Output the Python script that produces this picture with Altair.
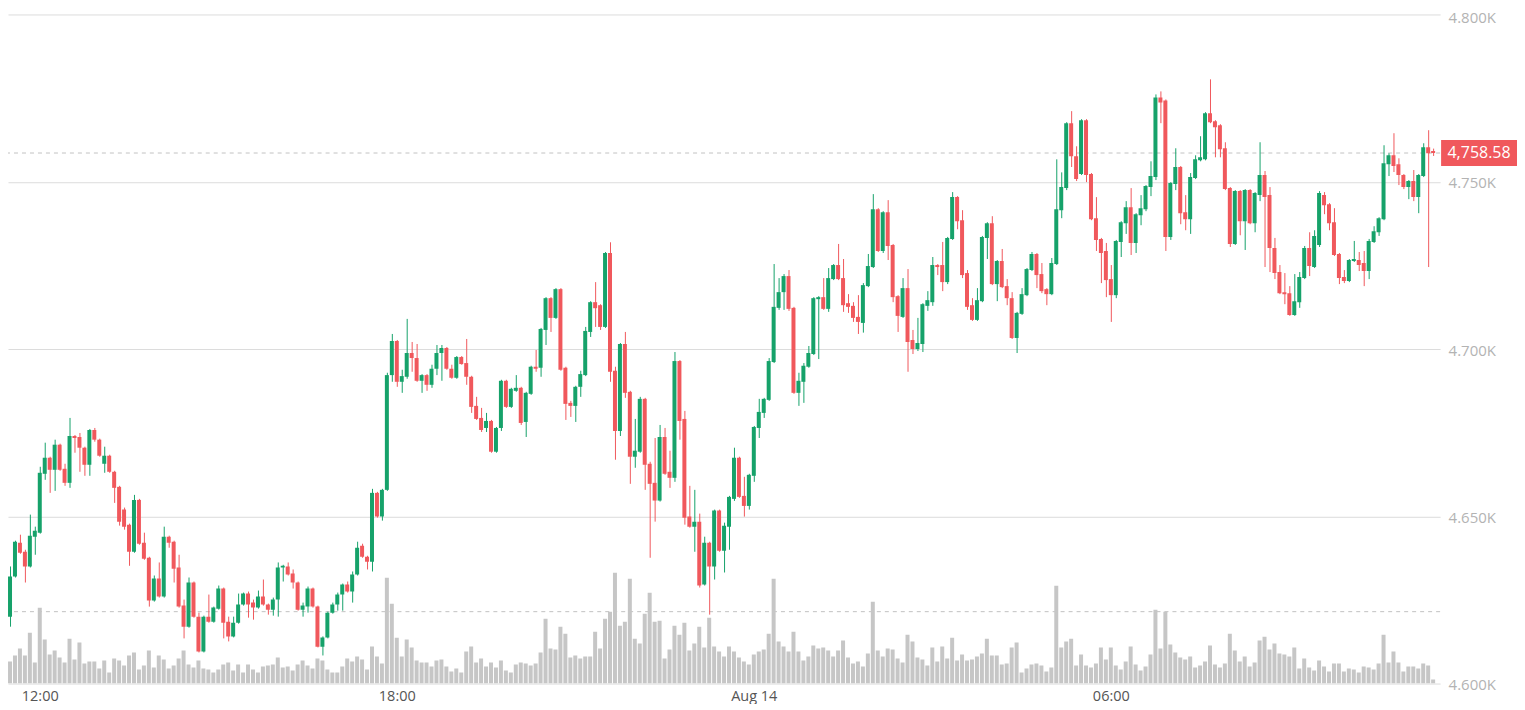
import altair as alt
import pandas as pd
import numpy as np

# 5-minute candles, first at 2025-08-13 11:25
opens = [
    4628.7, 4620.0, 4632.0, 4642.1, 4639.4, 4635.0, 4643.9,
    4645.1, 4662.7, 4667.5, 4663.9, 4671.4, 4664.2, 4660.0, 4674.0, 4673.7, 4670.5, 4665.4, 4675.8, 4672.9, 4665.7, 4668.1, 4663.3, 4658.8,
    4652.0, 4647.5, 4639.4, 4654.9, 4642.1, 4637.6, 4624.8, 4631.4, 4626.0, 4643.9, 4642.4, 4634.7, 4623.3, 4617.0, 4630.2, 4620.0, 4609.6, 4620.0, 4618.5, 4622.4, 4628.4, 4618.5, 4614.1, 4618.2,
    4623.6, 4626.9, 4624.2, 4622.7, 4626.0, 4623.6, 4622.1, 4625.1, 4634.7, 4635.0, 4632.9, 4630.2, 4622.1, 4623.0, 4628.4, 4623.0, 4611.0, 4613.8, 4621.2, 4623.6, 4626.6, 4629.6, 4627.5, 4632.6,
    4641.2, 4637.9, 4636.4, 4657.0, 4649.9, 4657.9, 4692.2, 4702.4, 4690.2, 4691.7, 4698.8, 4697.3, 4690.5, 4692.2, 4689.3, 4694.1, 4698.8, 4700.3, 4694.1, 4691.4, 4697.6, 4695.8, 4691.7, 4683.0,
    4679.4, 4676.4, 4678.5, 4669.3, 4676.4, 4690.5, 4682.7, 4687.5, 4688.4, 4678.2, 4686.6, 4694.7, 4694.4, 4705.7, 4715.2, 4709.3, 4717.9, 4694.4, 4683.9, 4683.0, 4688.7, 4692.2, 4705.1, 4714.0,
    4713.1, 4706.6, 4728.7, 4693.5, 4675.5, 4701.5, 4687.2, 4667.8, 4669.3, 4685.1, 4665.7, 4660.0, 4654.7, 4673.7, 4663.3, 4661.5, 4696.4, 4679.1, 4649.9, 4646.9, 4648.4, 4629.6, 4642.1, 4635.0,
    4651.7, 4639.7, 4646.9, 4655.2, 4667.5, 4656.1, 4653.1, 4662.1, 4676.4, 4680.9, 4684.8, 4696.1, 4712.3, 4717.0, 4721.8, 4712.3, 4686.9, 4690.2, 4694.7, 4698.5, 4714.9, 4715.5, 4712.0, 4720.9,
    4725.1, 4721.2, 4713.7, 4712.9, 4709.6, 4707.8, 4718.8, 4724.5, 4741.8, 4729.3, 4740.9, 4731.1, 4715.8, 4709.6, 4718.2, 4702.7, 4700.0, 4701.5, 4712.9, 4714.0, 4725.1, 4725.1, 4720.0, 4732.9,
    4745.4, 4738.5, 4722.7, 4713.1, 4708.7, 4714.3, 4733.2, 4737.6, 4719.4, 4726.3, 4718.8, 4715.2, 4703.3, 4710.5, 4716.1, 4723.6, 4728.4, 4722.4, 4717.9, 4716.4, 4725.4, 4741.5, 4748.1, 4767.5,
    4757.6, 4752.3, 4768.4, 4752.3, 4739.1, 4732.9, 4729.3, 4720.9, 4716.1, 4732.0, 4737.6, 4742.4, 4731.7, 4740.0, 4741.8, 4748.4, 4751.4, 4775.2, 4774.3, 4733.5, 4749.3, 4754.4, 4740.9, 4738.8,
    4751.1, 4756.4, 4756.7, 4770.5, 4768.1, 4766.9, 4760.0, 4748.1, 4731.4, 4747.2, 4738.2, 4747.5, 4737.6, 4746.0, 4752.0, 4746.0, 4730.2, 4723.0, 4717.0, 4716.7, 4710.2, 4714.0, 4721.2, 4730.2,
    4724.5, 4731.1, 4746.0, 4743.3, 4737.9, 4728.4, 4721.5, 4720.3, 4726.3, 4726.6, 4725.7, 4723.3, 4732.0, 4734.9, 4738.8, 4755.2, 4757.9, 4755.2, 4752.0, 4748.4, 4750.2, 4745.4, 4751.7, 4760.3, 4759.2,
]
highs = [
    4629.6, 4635.0, 4642.7, 4644.5, 4640.0, 4650.5, 4646.9,
    4664.8, 4672.0, 4667.8, 4672.9, 4671.7, 4665.7, 4679.4, 4674.3, 4674.9, 4670.8, 4676.1, 4676.4, 4673.2, 4670.8, 4668.4, 4663.6, 4659.1,
    4652.6, 4647.8, 4656.4, 4655.2, 4645.1, 4637.9, 4632.3, 4636.2, 4646.9, 4644.2, 4642.7, 4638.5, 4625.1, 4631.7, 4630.5, 4621.2, 4620.3, 4626.6, 4623.0, 4629.3, 4628.7, 4620.0, 4620.0, 4626.9,
    4627.2, 4627.5, 4625.1, 4627.8, 4631.1, 4623.9, 4625.7, 4636.2, 4635.5, 4636.2, 4634.1, 4630.5, 4624.2, 4629.0, 4628.7, 4623.3, 4614.1, 4621.5, 4624.2, 4627.2, 4629.9, 4630.5, 4633.5, 4642.4,
    4641.8, 4638.2, 4658.2, 4657.3, 4658.2, 4692.9, 4704.5, 4702.7, 4693.8, 4709.0, 4702.1, 4701.5, 4692.5, 4692.5, 4695.3, 4701.2, 4701.2, 4700.6, 4695.3, 4697.9, 4697.9, 4703.0, 4692.0, 4685.7,
    4682.4, 4680.9, 4678.8, 4676.7, 4690.8, 4690.8, 4688.4, 4692.2, 4688.7, 4687.2, 4695.0, 4699.7, 4706.3, 4715.5, 4715.5, 4718.2, 4718.2, 4694.7, 4684.5, 4689.0, 4693.5, 4706.6, 4714.3, 4720.0,
    4713.4, 4729.0, 4731.9, 4694.7, 4701.8, 4705.1, 4687.5, 4679.1, 4685.7, 4685.4, 4666.3, 4673.4, 4677.3, 4676.4, 4669.6, 4699.1, 4696.7, 4681.5, 4659.1, 4657.9, 4650.8, 4643.9, 4642.4, 4652.0,
    4652.0, 4648.1, 4656.1, 4670.5, 4667.8, 4661.8, 4662.7, 4677.0, 4685.1, 4685.4, 4697.3, 4725.4, 4721.2, 4722.4, 4723.6, 4712.6, 4692.9, 4695.8, 4700.9, 4715.5, 4715.8, 4721.2, 4724.2, 4725.4,
    4731.4, 4726.9, 4716.4, 4714.0, 4716.1, 4719.7, 4728.4, 4746.3, 4742.1, 4741.2, 4744.5, 4731.4, 4716.1, 4721.2, 4723.9, 4705.7, 4709.3, 4713.7, 4717.3, 4727.5, 4725.4, 4732.0, 4733.5, 4746.9,
    4745.7, 4741.5, 4723.6, 4715.2, 4718.2, 4733.8, 4737.9, 4739.7, 4726.6, 4729.9, 4720.9, 4717.0, 4711.1, 4718.2, 4724.2, 4729.0, 4728.7, 4725.7, 4718.2, 4727.2, 4756.7, 4752.8, 4767.8, 4771.1,
    4760.6, 4768.7, 4768.7, 4752.6, 4745.4, 4733.2, 4731.7, 4725.1, 4732.6, 4738.2, 4744.2, 4748.1, 4740.6, 4746.0, 4749.0, 4756.1, 4776.1, 4777.0, 4774.6, 4749.9, 4760.0, 4754.7, 4746.0, 4752.6,
    4757.9, 4763.6, 4770.8, 4780.6, 4768.4, 4767.2, 4761.8, 4748.4, 4747.5, 4747.5, 4747.8, 4747.8, 4746.9, 4761.8, 4753.2, 4748.4, 4733.2, 4725.1, 4722.7, 4718.8, 4722.4, 4723.0, 4730.8, 4734.9,
    4735.5, 4747.2, 4746.9, 4743.6, 4742.1, 4728.7, 4723.6, 4726.9, 4732.3, 4729.0, 4729.3, 4732.9, 4736.7, 4739.4, 4760.9, 4758.5, 4764.5, 4757.0, 4752.3, 4750.5, 4753.5, 4752.3, 4761.5, 4765.4, 4759.9,
]
lows = [
    4617.0, 4617.0, 4631.7, 4638.8, 4630.2, 4634.7, 4638.5,
    4644.8, 4660.9, 4657.0, 4657.6, 4663.6, 4659.1, 4658.5, 4669.0, 4663.3, 4662.1, 4662.1, 4672.3, 4667.8, 4663.0, 4663.0, 4654.0, 4647.2,
    4646.0, 4635.2, 4639.1, 4641.5, 4637.0, 4623.0, 4624.5, 4625.7, 4625.7, 4640.6, 4630.2, 4622.7, 4613.5, 4616.7, 4619.7, 4609.3, 4609.3, 4618.2, 4618.2, 4622.1, 4613.5, 4612.6, 4613.8, 4617.9,
    4623.3, 4619.7, 4619.1, 4622.4, 4623.3, 4620.6, 4620.3, 4620.0, 4630.5, 4632.3, 4628.4, 4621.8, 4620.0, 4621.2, 4622.7, 4610.8, 4608.4, 4613.5, 4620.9, 4621.8, 4621.8, 4627.2, 4624.2, 4632.3,
    4637.6, 4634.1, 4633.5, 4649.6, 4648.7, 4657.6, 4690.2, 4688.7, 4686.9, 4691.1, 4693.2, 4690.2, 4686.9, 4687.5, 4688.4, 4692.2, 4690.5, 4693.8, 4691.1, 4691.1, 4695.3, 4689.3, 4680.9, 4678.8,
    4675.2, 4675.2, 4669.0, 4669.0, 4675.5, 4682.4, 4682.4, 4687.2, 4677.3, 4673.7, 4686.3, 4693.2, 4691.7, 4701.2, 4705.1, 4709.0, 4693.5, 4678.8, 4679.7, 4678.2, 4685.7, 4691.9, 4703.6, 4706.6,
    4705.7, 4706.3, 4690.2, 4666.9, 4674.0, 4685.4, 4659.7, 4664.5, 4669.0, 4657.9, 4637.6, 4648.4, 4654.4, 4662.4, 4658.5, 4660.3, 4672.9, 4647.5, 4646.6, 4639.4, 4628.7, 4629.3, 4620.6, 4631.1,
    4639.4, 4633.2, 4640.0, 4654.6, 4655.5, 4649.9, 4652.0, 4660.3, 4673.4, 4679.4, 4684.5, 4695.8, 4711.7, 4711.7, 4711.4, 4686.6, 4683.0, 4683.9, 4694.4, 4698.2, 4697.0, 4711.7, 4711.1, 4720.6,
    4720.6, 4711.1, 4710.8, 4708.1, 4704.5, 4704.9, 4718.5, 4724.2, 4729.0, 4728.7, 4726.6, 4714.0, 4705.1, 4709.3, 4693.2, 4698.5, 4699.4, 4699.1, 4711.4, 4712.9, 4722.1, 4717.3, 4719.4, 4732.6,
    4735.8, 4721.2, 4711.7, 4708.4, 4708.4, 4714.0, 4726.9, 4719.1, 4714.3, 4718.2, 4713.1, 4703.0, 4698.8, 4710.2, 4715.8, 4723.3, 4718.2, 4716.7, 4713.1, 4716.1, 4725.1, 4739.1, 4747.5, 4754.4,
    4750.2, 4752.0, 4749.9, 4738.5, 4729.3, 4719.7, 4715.5, 4708.1, 4715.2, 4727.5, 4734.4, 4728.1, 4728.7, 4737.0, 4741.2, 4745.7, 4750.5, 4767.5, 4729.3, 4732.6, 4747.5, 4737.3, 4735.5, 4734.4,
    4750.8, 4756.1, 4756.4, 4767.5, 4757.3, 4757.3, 4747.5, 4730.5, 4731.1, 4734.0, 4729.6, 4737.3, 4734.9, 4744.2, 4724.5, 4723.0, 4720.9, 4716.4, 4713.4, 4709.9, 4709.9, 4712.3, 4720.9, 4721.8,
    4724.2, 4730.5, 4740.3, 4735.5, 4727.8, 4719.4, 4719.7, 4720.0, 4726.0, 4723.3, 4718.8, 4720.9, 4731.7, 4733.8, 4738.5, 4751.7, 4752.9, 4749.0, 4747.8, 4744.8, 4744.2, 4740.6, 4751.4, 4724.5, 4757.7,
]
closes = [
    4620.0, 4632.0, 4642.4, 4639.1, 4635.0, 4644.2, 4645.7,
    4663.0, 4667.5, 4663.9, 4671.4, 4663.9, 4660.0, 4674.0, 4673.4, 4670.5, 4665.4, 4675.8, 4672.9, 4668.1, 4668.1, 4663.3, 4658.5, 4648.4,
    4646.9, 4639.4, 4654.9, 4641.8, 4637.3, 4624.8, 4631.4, 4626.0, 4643.9, 4642.1, 4634.3, 4623.0, 4617.0, 4630.2, 4620.0, 4609.6, 4620.0, 4618.5, 4622.7, 4628.4, 4618.2, 4614.1, 4618.2, 4623.6,
    4626.9, 4623.6, 4622.7, 4626.0, 4623.6, 4622.1, 4625.1, 4634.7, 4635.2, 4632.6, 4630.2, 4622.1, 4623.3, 4628.4, 4623.0, 4611.0, 4613.8, 4621.2, 4623.6, 4626.6, 4629.6, 4627.5, 4632.6, 4640.6,
    4637.9, 4636.4, 4657.0, 4649.9, 4657.9, 4692.2, 4702.4, 4690.2, 4691.9, 4698.8, 4697.3, 4690.5, 4692.2, 4689.3, 4694.1, 4698.8, 4700.3, 4694.1, 4691.4, 4697.6, 4695.5, 4691.7, 4682.7, 4679.1,
    4675.8, 4678.5, 4669.3, 4676.4, 4690.5, 4682.7, 4688.1, 4688.4, 4677.9, 4686.9, 4694.7, 4694.1, 4706.0, 4715.2, 4709.3, 4717.9, 4693.8, 4683.6, 4683.0, 4688.7, 4692.5, 4705.4, 4714.0, 4712.2,
    4706.6, 4728.7, 4693.2, 4675.5, 4701.5, 4686.9, 4667.8, 4669.6, 4685.1, 4665.4, 4659.7, 4654.7, 4673.7, 4662.7, 4661.5, 4696.4, 4678.5, 4649.6, 4646.9, 4648.4, 4629.3, 4642.1, 4635.0, 4651.7,
    4639.7, 4647.2, 4655.8, 4667.5, 4655.8, 4653.1, 4662.4, 4676.7, 4681.2, 4685.1, 4696.4, 4712.6, 4717.0, 4721.8, 4712.0, 4686.9, 4690.5, 4695.0, 4698.8, 4715.2, 4715.5, 4712.0, 4721.2, 4725.1,
    4720.9, 4713.1, 4712.6, 4709.3, 4708.1, 4719.1, 4724.8, 4741.8, 4729.3, 4740.9, 4730.8, 4715.5, 4709.9, 4718.2, 4702.1, 4700.0, 4701.8, 4713.4, 4714.6, 4725.1, 4724.5, 4720.0, 4733.2, 4745.4,
    4738.2, 4722.1, 4712.6, 4708.7, 4714.6, 4733.5, 4737.6, 4719.4, 4726.3, 4718.5, 4715.2, 4703.3, 4710.8, 4716.4, 4723.9, 4728.4, 4722.1, 4717.3, 4716.4, 4725.7, 4741.8, 4748.4, 4767.5, 4757.6,
    4750.8, 4768.4, 4752.0, 4738.8, 4732.6, 4728.7, 4720.6, 4716.1, 4732.3, 4737.9, 4742.4, 4731.7, 4740.3, 4742.1, 4748.7, 4751.7, 4775.2, 4773.7, 4733.5, 4749.6, 4754.4, 4740.6, 4738.8, 4751.4,
    4756.7, 4757.3, 4770.5, 4767.8, 4766.3, 4759.7, 4747.8, 4731.4, 4747.2, 4738.2, 4747.5, 4737.6, 4746.6, 4752.0, 4745.4, 4730.2, 4722.7, 4716.7, 4716.4, 4710.2, 4714.3, 4721.5, 4730.2, 4724.8,
    4733.8, 4746.6, 4743.0, 4737.6, 4728.1, 4721.2, 4720.3, 4726.6, 4726.9, 4725.1, 4723.3, 4732.3, 4735.2, 4739.1, 4755.5, 4757.9, 4754.7, 4752.0, 4748.4, 4750.2, 4745.4, 4752.0, 4760.3, 4758.5, 4758.58,
]
volumes = [
    190, 220, 280, 350, 280, 510, 210,
    760, 440, 290, 330, 260, 210, 450, 240, 410, 200, 220, 220, 150, 230, 110, 250, 230,
    180, 280, 310, 140, 180, 330, 160, 280, 240, 150, 180, 250, 330, 190, 160, 230, 150, 140, 110, 140, 190, 210, 130, 190,
    110, 190, 140, 110, 170, 180, 190, 260, 160, 170, 130, 190, 230, 180, 150, 250, 230, 140, 110, 110, 170, 250, 220, 270,
    240, 140, 370, 270, 200, 1060, 800, 460, 270, 440, 360, 230, 210, 210, 170, 230, 240, 170, 120, 150, 110, 320, 370, 210,
    250, 170, 210, 160, 230, 130, 110, 190, 210, 200, 180, 200, 310, 650, 350, 340, 570, 500, 260, 280, 250, 270, 270, 520,
    350, 650, 720, 1110, 580, 620, 1050, 450, 400, 700, 910, 620, 630, 250, 340, 580, 490, 610, 330, 400, 570, 360, 660, 370,
    320, 270, 370, 320, 260, 220, 190, 290, 320, 340, 500, 1050, 420, 370, 320, 520, 320, 230, 270, 380, 350, 360, 330, 270,
    330, 430, 260, 200, 220, 170, 300, 820, 330, 270, 350, 340, 250, 210, 490, 420, 260, 240, 180, 360, 220, 370, 250, 460,
    230, 290, 230, 240, 270, 300, 450, 280, 280, 190, 200, 360, 410, 110, 150, 190, 200, 180, 120, 160, 980, 360, 420, 450,
    180, 290, 180, 160, 200, 360, 240, 360, 180, 140, 220, 370, 190, 130, 170, 290, 740, 350, 720, 390, 310, 260, 240, 270,
    160, 180, 220, 380, 190, 160, 200, 500, 330, 220, 270, 170, 210, 430, 470, 340, 400, 300, 290, 270, 360, 150, 250, 160,
    130, 230, 170, 120, 200, 200, 120, 150, 140, 110, 170, 160, 140, 200, 490, 210, 320, 210, 120, 170, 170, 150, 200, 180, 40,
]

price_ticks = [4600, 4650, 4700, 4750, 4800]
last_price = 4758.58
volume_ref = 720

GREEN = "#16a26a"
RED = "#f0585c"
FONT = "Open Sans"

times = pd.date_range("2025-08-13 11:25", periods=len(opens), freq="5min")
df = pd.DataFrame({
    "t": times.strftime("%Y-%m-%dT%H:%M:%S"),
    "open": opens, "high": highs, "low": lows, "close": closes, "volume": volumes,
})
df["dir"] = np.where(df["close"] >= df["open"], "up", "down")

x_domain = [alt.DateTime(year=2025, month=8, date=13, hours=11, minutes=33),
            alt.DateTime(year=2025, month=8, date=14, hours=11, minutes=27)]
x_ticks = [alt.DateTime(year=2025, month=8, date=13, hours=12),
           alt.DateTime(year=2025, month=8, date=13, hours=18),
           alt.DateTime(year=2025, month=8, date=14, hours=0),
           alt.DateTime(year=2025, month=8, date=14, hours=6)]

xaxis = alt.Axis(values=x_ticks, grid=False, ticks=False, domain=False,
                 labelExpr="hours(datum.value) == 0 ? timeFormat(datum.value, '%b %d') : timeFormat(datum.value, '%H:%M')",
                 labelColor="#555555", labelFontSize=14.5, labelFont=FONT,
                 labelPadding=6, labelFlush=False, title=None)
xenc = alt.X("t:T", scale=alt.Scale(domain=x_domain), axis=xaxis)

paxis = alt.Axis(orient="right", values=price_ticks, grid=True, gridColor="#dcdcdc",
                 ticks=False, domain=False, labelColor="#b3b3b3", labelFontSize=15,
                 labelFont=FONT, labelPadding=8, title=None,
                 labelOffset={"condition": {"test": "datum.value >= 4800", "value": 3}, "value": 1},
                 labelExpr="format(datum.value / 1000, '.3f') + 'K'")
pscale = alt.Scale(domain=[4600, 4800], nice=False, zero=False)
vscale = alt.Scale(domain=[0, 6700], nice=False)
color = alt.Color("dir:N", scale=alt.Scale(domain=["up", "down"], range=[GREEN, RED]), legend=None)

base = alt.Chart(df)

price_line = alt.Chart(pd.DataFrame({"p": [last_price]})).mark_rule(
    color="#c2c2c2", strokeDash=[4, 4], strokeWidth=1
).encode(y=alt.Y("p:Q", scale=pscale, axis=paxis, title=None))

wicks = base.mark_rule(strokeWidth=1, clip=True, xOffset=0.5).encode(
    x=xenc,
    y=alt.Y("low:Q", scale=pscale, axis=paxis, title=None),
    y2="high:Q",
    color=color,
)
bodies = base.mark_bar(size=4, clip=True).encode(
    x=xenc,
    y=alt.Y("open:Q", scale=pscale, axis=paxis, title=None),
    y2="close:Q",
    color=color,
)

last_df = df.tail(1)
label_box = alt.Chart(last_df).mark_tick(orient="horizontal", thickness=26, color=RED, opacity=1).encode(
    y=alt.Y("close:Q", scale=pscale, axis=paxis, title=None),
    x=alt.value(1473),
    size=alt.value(76),
)
label_text = alt.Chart(last_df).mark_text(color="white", fontSize=16, font=FONT, align="center", baseline="middle").encode(
    y=alt.Y("close:Q", scale=pscale, axis=paxis, title=None),
    x=alt.value(1473),
    text=alt.Text("close:Q", format=",.2f"),
)

vol_bars = base.mark_bar(size=4, color="#c6c6c6", clip=True).encode(
    x=xenc,
    y=alt.Y("volume:Q", scale=vscale, axis=None),
)
vol_line = alt.Chart(pd.DataFrame({"v": [volume_ref]})).mark_rule(
    color="#c2c2c2", strokeDash=[4, 4], strokeWidth=1
).encode(y=alt.Y("v:Q", scale=vscale, axis=None))

volume_layer = alt.layer(vol_line, vol_bars)
price_layer = alt.layer(price_line, wicks, bodies, label_box, label_text)

chart = alt.layer(volume_layer, price_layer).resolve_scale(y="independent").properties(
    width=1434, height=670,
    autosize=alt.AutoSizeParams(type="none"),
    padding={"left": 0, "top": 6, "right": 77, "bottom": 20},
    background="white",
).configure_view(stroke=None)

chart.save("out.html", embed_options={"renderer": "svg", "actions": False})
